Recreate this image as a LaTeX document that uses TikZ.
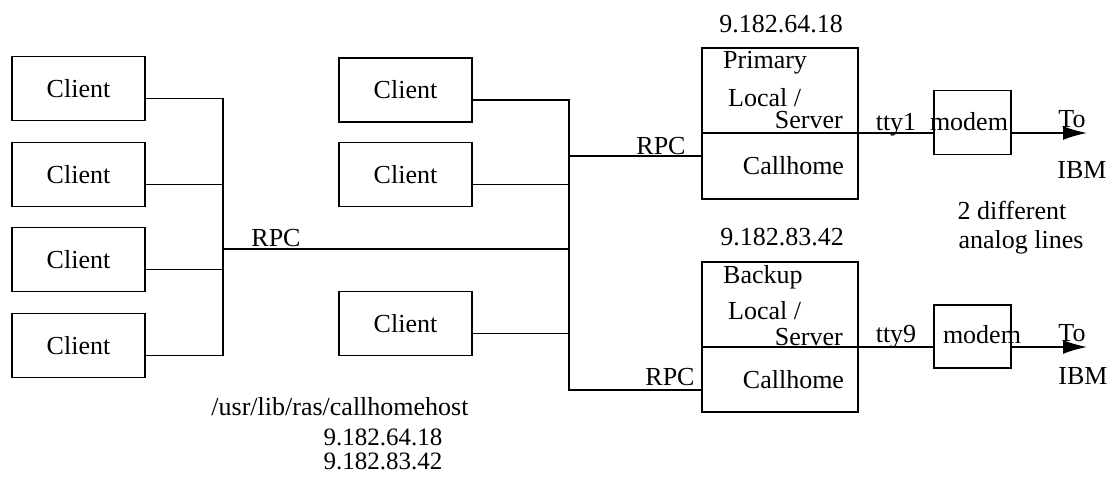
\documentclass[tikz,border=0pt]{standalone}
\usepackage{fontspec}
\setmainfont{Liberation Serif}
\usetikzlibrary{arrows.meta,positioning}
\tikzstyle{wire}=[draw,line width=1.6pt]
\tikzstyle{client}=[draw,line width=1.6pt,minimum width=133pt,minimum height=64pt,inner sep=0pt,outer sep=0pt]
\tikzstyle{hostbox}=[draw,line width=1.6pt,minimum width=156pt,inner sep=0pt,outer sep=0pt]
\tikzstyle{modembox}=[draw,line width=1.6pt,minimum width=77pt,minimum height=64pt,inner sep=0pt,outer sep=0pt]
\tikzstyle{lbl}=[inner sep=0pt]

\begin{document}
\begin{tikzpicture}[x=1pt,y=-1pt,every node/.style={font=\fontsize{26}{28}\selectfont}]
    \useasboundingbox (0,0) rectangle (1112,479);
    % Clients on the left and in the middle
    \foreach \pos/\name in {{(78.5,88.5)/lc1}, {(78.5,174.5)/lc2}, {(78.5,259.5)/lc3}, {(78.5,345.5)/lc4},
                            {(405.5,90)/mc1}, {(405.5,174.5)/mc2}, {(405.5,323.5)/mc3}}
        \node[client] (\name) at \pos {Client};

    % Primary and backup servers
    \node[hostbox,minimum height=85pt] (prim) at (780,90.5) {};
    \node[hostbox,minimum height=66pt,below=0pt of prim,text width=128pt,inner xsep=14pt,align=right] (primcall) {Callhome};
    \node[hostbox,minimum height=85pt] (back) at (780,304.5) {};
    \node[hostbox,minimum height=65pt,below=0pt of back,text width=128pt,inner xsep=14pt,align=right] (backcall) {Callhome};
    \node[lbl] (pip) at (781,24) {9.182.64.18};
    \node[lbl] (bip) at (782,237) {9.182.83.42};
    \node[lbl,anchor=west] (primname) at (723,63) {Primary};
    \node[lbl,anchor=west] (primlocal) at (728,98) {Local /};
    \node[lbl,anchor=east] (primserver) at (843,120) {Server};
    \node[lbl,anchor=west] (backname) at (723,277) {Backup};
    \node[lbl,anchor=west] (backlocal) at (728,311) {Local /};
    \node[lbl,anchor=east] (backserver) at (843,337) {Server};

    % Modems
    \node[modembox] (modem1) at (972.5,122.5) {};
    \node[lbl] (modemtxt1) at (969,122) {modem};
    \node[modembox,minimum height=63pt] (modem2) at (972.5,336.5) {};
    \node[lbl] (modemtxt2) at (982,335) {modem};

    % RPC buses
    \coordinate (lbus) at (223,249);
    \coordinate (mbus) at (569,249);
    \coordinate (ptap) at (702,156);
    \coordinate (btap) at (702,390);
    \foreach \n in {lc1,lc2,lc3,lc4}
        \path[wire] ([yshift=-10pt]\n.east) -| (lbus);
    \foreach \n in {mc1,mc2,mc3}
        \path[wire] ([yshift=-10pt]\n.east) -| (mbus);
    \path[wire] (lbus) -- (mbus);
    \path[wire] (mbus) |- (ptap);
    \path[wire] (mbus) |- (btap);
    \node[lbl] (rpc1) at (276,238) {RPC};
    \node[lbl] (rpc2) at (661,146) {RPC};
    \node[lbl] (rpc3) at (670,377) {RPC};

    % Lines out to IBM
    \coordinate (ibm1) at (1087,133);
    \coordinate (ibm2) at (1087,347);
    \path[wire] (prim.south east) -- (prim.south east -| modem1.west);
    \path[wire,-{Latex[length=24pt,width=14pt]}] (prim.south east -| modem1.east) -- (ibm1);
    \path[wire] (back.south east) -- (back.south east -| modem2.west);
    \path[wire,-{Latex[length=24pt,width=14pt]}] (back.south east -| modem2.east) -- (ibm2);
    \node[lbl] (tty1) at (896,125) {tty1};
    \node[lbl] (tty9) at (896,337) {tty9};
    \node[lbl] (to1) at (1072,119) {To};
    \node[lbl] (ibmtxt1) at (1082,170) {IBM};
    \node[lbl] (to2) at (1072,333) {To};
    \node[lbl] (ibmtxt2) at (1083,376) {IBM};
    \node[lbl] (diff) at (1012,210) {2 different};
    \node[lbl] (analog) at (1021,242) {analog lines};

    % Host file
    \node[lbl] (hostfile) at (340,407) {/usr/lib/ras/callhomehost};
    \node[lbl,font=\fontsize{25}{25}\selectfont] (hostip1) at (383,437) {9.182.64.18};
    \node[lbl,font=\fontsize{25}{25}\selectfont] (hostip2) at (383,461) {9.182.83.42};
\end{tikzpicture}
\end{document}
